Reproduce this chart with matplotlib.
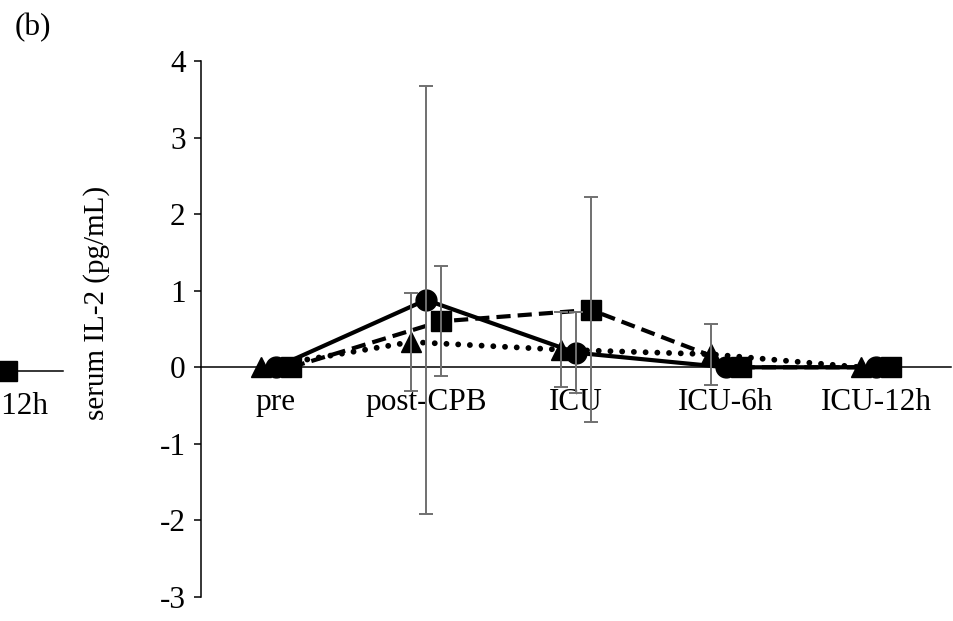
import numpy as np
import matplotlib
matplotlib.use("Agg")
import matplotlib.pyplot as plt

categories = ["pre", "post-CPB", "ICU", "ICU-6h", "ICU-12h"]
tri_mean = [0.0, 0.33, 0.23, 0.17, 0.0]
tri_sd = [0.0, 0.64, 0.49, 0.40, 0.0]
cir_mean = [0.0, 0.88, 0.19, 0.0, 0.0]
cir_sd = [0.0, 2.79, 0.53, 0.0, 0.0]
sq_mean = [0.0, 0.60, 0.75, 0.0, 0.0]
sq_sd = [0.0, 0.72, 1.47, 0.0, 0.0]
yticks = [-3, -2, -1, 0, 1, 2, 3, 4]
panel_a_sq_last = [0.0]

plt.rcParams['font.family'] = ['Liberation Serif', 'DejaVu Serif']
FS = 22.5
W, H = 954, 621
fig = plt.figure(figsize=(W/100, H/100), dpi=100)

def px_axes(left, top, right, bottom):
    return fig.add_axes([left/W, 1-bottom/H, (right-left)/W, (bottom-top)/H])

ax = px_axes(201, 61, 951, 597)
x = np.arange(len(categories))
off = 0.1
series = [
    (tri_mean, tri_sd, -off, '^', (0, (0.01, 2.0)), 4.2, 15),
    (cir_mean, cir_sd, 0.0, 'o', '-', 3.0, 15),
    (sq_mean, sq_sd, off, 's', (0, (3.4, 1.7)), 3.0, 14),
]
for mean, sd, dx, mk, ls, lw, ms in series:
    m = np.array(mean); s = np.array(sd); xx = x + dx
    line, = ax.plot(xx, m, color='black', lw=lw, linestyle=ls, marker=mk,
                    ms=ms, markeredgecolor='black', markerfacecolor='black',
                    zorder=3, clip_on=False)
    if isinstance(ls, tuple) and ls[1][0] < 0.1:
        line.set_dash_capstyle('round')
    mask = s > 0
    ax.errorbar(xx[mask], m[mask], yerr=s[mask], fmt='none', ecolor='#707070',
                elinewidth=1.4, capsize=5, capthick=1.4, zorder=4)

ax.set_xlim(-0.5, len(categories) - 0.5)
ax.set_ylim(-3, 4)
ax.set_yticks(yticks)
ax.set_yticklabels([str(t) for t in yticks])
ax.set_xticks(x)
ax.set_xticklabels(categories)
ax.spines['top'].set_visible(False)
ax.spines['right'].set_visible(False)
ax.spines['bottom'].set_position(('data', 0))
ax.spines['bottom'].set_linewidth(1.1)
ax.spines['left'].set_linewidth(1.1)
ax.tick_params(axis='y', direction='out', length=5, width=1.1, labelsize=FS, pad=6)
ax.tick_params(axis='x', length=0, labelsize=FS, pad=15)
ax.patch.set_alpha(0)

fig.text(97/W, 1-303/H, "serum IL-2 (pg/mL)", rotation=90, ha='center', va='center', fontsize=21)
fig.text(15/W, 1-28/H, "(b)", ha='left', va='center', fontsize=FS)

# fragment of neighbouring panel (a)
axa = px_axes(-636, 64, 63, 601)
axa.plot([4 + off], panel_a_sq_last, marker='s', ms=14, color='black', zorder=3, clip_on=False)
axa.set_xlim(-0.5, 4.5)
axa.set_ylim(-3, 4)
axa.set_xticks([4])
axa.set_xticklabels(["ICU-12h"])
axa.set_yticks([])
for sp in ['top', 'right', 'left']:
    axa.spines[sp].set_visible(False)
axa.spines['bottom'].set_position(('data', 0))
axa.spines['bottom'].set_linewidth(1.1)
axa.tick_params(axis='x', length=0, labelsize=FS, pad=15)
axa.patch.set_alpha(0)

fig.savefig("out.png", dpi=100)
